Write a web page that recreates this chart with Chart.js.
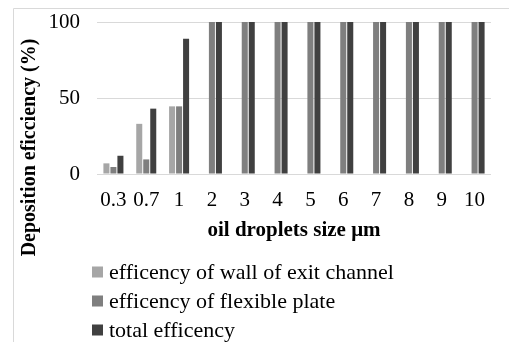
<!DOCTYPE html>
<html>
<head>
<meta charset="utf-8">
<script src="https://cdn.jsdelivr.net/npm/chart.js@4"></script>
<style>
  body { margin: 0; background: #fff; }
  #wrap { width: 509px; height: 342px; position: relative; }
</style>
</head>
<body>
<div id="wrap"><canvas id="depositionChart"></canvas></div>
<script>
  const dropletSizes = ["0.3", "0.7", "1", "2", "3", "4", "5", "6", "7", "8", "9", "10"];
  const wallEfficiency = [7, 33, 44.5, 0, 0, 0, 0, 0, 0, 0, 0, 0];
  const plateEfficiency = [4.6, 9.6, 44.5, 100, 100, 100, 100, 100, 100, 100, 100, 100];
  const totalEfficiency = [12, 43, 89, 100, 100, 100, 100, 100, 100, 100, 100, 100];
  const yTicks = [0, 50, 100];

  const seriesNames = ["efficency of wall of exit channel", "efficency of flexible plate", "total efficency"];
  const seriesColors = ["#a6a6a6", "#7f7f7f", "#404040"];

  const serif = "'Liberation Serif', 'Times New Roman', serif";

  // frame, y title and the stacked legend are drawn by hand
  const extras = {
    id: "extras",
    afterDraw(chart) {
      const ctx = chart.ctx;
      ctx.save();
      ctx.strokeStyle = "#d9d9d9";
      ctx.lineWidth = 1;
      ctx.beginPath();
      ctx.moveTo(13.5, 342);
      ctx.lineTo(13.5, 8.5);
      ctx.lineTo(509, 8.5);
      ctx.stroke();

      ctx.fillStyle = "#000";
      ctx.font = "bold 20px " + serif;
      ctx.textAlign = "center";
      ctx.textBaseline = "alphabetic";
      ctx.translate(35, 147.5);
      ctx.rotate(-Math.PI / 2);
      ctx.fillText("Deposition eficciency (%)", 0, 0);
      ctx.restore();

      ctx.save();
      ctx.font = "22px " + serif;
      ctx.textBaseline = "middle";
      chart.data.datasets.forEach((ds, i) => {
        const y = 272 + i * 29;
        ctx.fillStyle = ds.backgroundColor;
        ctx.fillRect(92, y - 5.5, 11, 11);
        ctx.fillStyle = "#000";
        ctx.fillText(ds.label, 109, y + 1);
      });
      ctx.restore();
    }
  };

  const ctx = document.getElementById("depositionChart").getContext("2d");

  const chart = new Chart(ctx, {
    type: "bar",
    data: {
      labels: dropletSizes,
      datasets: [
        { label: seriesNames[0], data: wallEfficiency, backgroundColor: seriesColors[0] },
        { label: seriesNames[1], data: plateEfficiency, backgroundColor: seriesColors[1] },
        { label: seriesNames[2], data: totalEfficiency, backgroundColor: seriesColors[2] },
      ],
    },
    options: {
      responsive: true,
      maintainAspectRatio: false,
      animation: false,
      layout: { padding: { top: 22, right: 18, bottom: 93, left: 0 } },
      datasets: {
        bar: { barPercentage: 0.86, categoryPercentage: 0.64 },
      },
      scales: {
        x: {
          grid: { display: false },
          border: { display: false },
          ticks: { color: "#000", font: { family: serif, size: 21 }, padding: 6, maxRotation: 0 },
          title: {
            display: true,
            text: "oil droplets size μm",
            color: "#000",
            font: { family: serif, size: 21, weight: "bold" },
            padding: { top: 0, bottom: 6 },
          },
          afterFit(scale) { scale.height = 75; },
        },
        y: {
          min: 0,
          max: 100,
          afterBuildTicks(scale) { scale.ticks = yTicks.map(v => ({ value: v })); },
          grid: { color: "#d9d9d9", drawTicks: false },
          border: { display: false },
          // small lineHeight keeps the label padding from pushing the plot top down
          ticks: { color: "#000", font: { family: serif, size: 21, lineHeight: 0.2 }, padding: 17 },
          afterFit(scale) { scale.width = 97; },
        },
      },
      plugins: {
        legend: { display: false },
        tooltip: { enabled: false },
      },
    },
    plugins: [extras],
  });
</script>
</body>
</html>
